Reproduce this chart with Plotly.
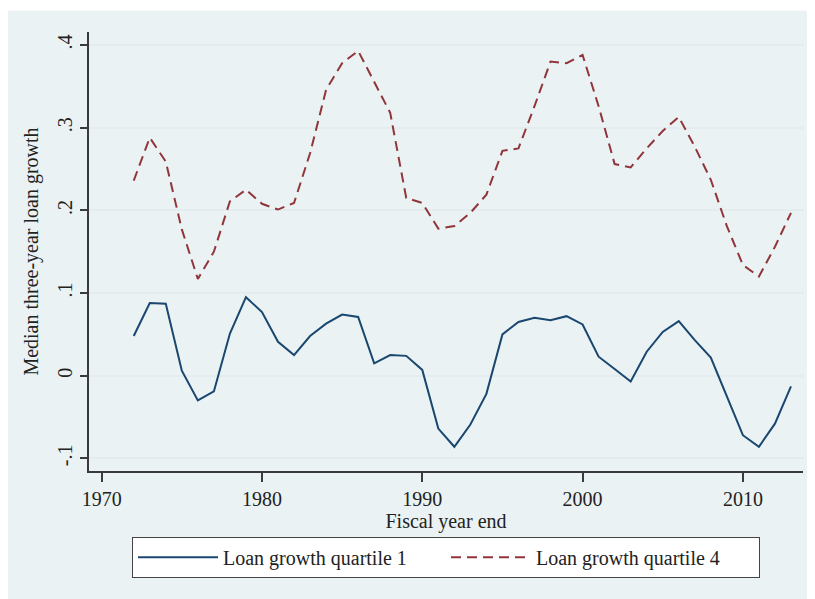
import plotly.graph_objects as go

years = list(range(1972, 2014))

q1 = [0.048, 0.088, 0.087, 0.006, -0.030, -0.019, 0.051, 0.095, 0.077, 0.041,
      0.025, 0.048, 0.063, 0.074, 0.071, 0.015, 0.025, 0.024, 0.007, -0.064,
      -0.086, -0.059, -0.022, 0.050, 0.065, 0.070, 0.067, 0.072, 0.062, 0.023,
      0.008, -0.007, 0.029, 0.053, 0.066, 0.043, 0.022, -0.025, -0.072, -0.086,
      -0.058, -0.013]

q4 = [0.236, 0.288, 0.259, 0.177, 0.117, 0.150, 0.211, 0.225, 0.208, 0.201,
      0.209, 0.269, 0.346, 0.378, 0.393, 0.356, 0.318, 0.215, 0.209, 0.178,
      0.181, 0.197, 0.219, 0.272, 0.275, 0.326, 0.380, 0.378, 0.388, 0.326,
      0.256, 0.252, 0.275, 0.296, 0.313, 0.277, 0.237, 0.181, 0.134, 0.120,
      0.156, 0.197]

series_names = ["Loan growth quartile 1", "Loan growth quartile 4"]

x_ticks = [1970, 1980, 1990, 2000, 2010]
y_ticks = [-0.1, 0, 0.1, 0.2, 0.3, 0.4]
y_tick_text = ["-.1", "0", ".1", ".2", ".3", ".4"]

FONT = "Liberation Serif, Times New Roman, serif"
BG = "#EAF2F3"
AX = "#3a3a3a"

fig = go.Figure()
fig.add_trace(go.Scatter(x=years, y=q1, mode="lines", name=series_names[0],
                         line=dict(color="#1a476f", width=2)))
fig.add_trace(go.Scatter(x=years, y=q4, mode="lines", name=series_names[1],
                         line=dict(color="#90353b", width=2, dash="10px,6px")))

fig.update_layout(
    width=815, height=599,
    margin=dict(l=81, r=20, t=24, b=136),
    paper_bgcolor="white",
    plot_bgcolor="white",
    font=dict(family=FONT, size=20, color="#222222"),
    shapes=[dict(type="rect", xref="paper", yref="paper",
                 x0=-0.2, x1=1.1, y0=-0.4, y1=1.0485,
                 fillcolor=BG, line=dict(width=0), layer="below")],
    xaxis=dict(range=[1969.21, 2013.75], tickvals=x_ticks,
               showgrid=False, zeroline=False, automargin=False,
               showline=True, linecolor=AX, linewidth=1.5,
               ticks="outside", ticklen=9, tickcolor=AX, tickwidth=1.5,
               title=dict(text="Fiscal year end", standoff=2,
                          font=dict(size=20)),
               tickfont=dict(size=20)),
    yaxis=dict(range=[-0.1153, 0.4158], tickvals=y_ticks, ticktext=y_tick_text,
               tickangle=-90, automargin=False,
               showgrid=True, gridcolor="#E3EDEF", gridwidth=1.5,
               zeroline=False,
               showline=True, linecolor=AX, linewidth=1.5,
               ticks="outside", ticklen=7, tickcolor=AX, tickwidth=1.5,
               title=dict(text="Median three-year loan growth", standoff=10,
                          font=dict(size=20)),
               tickfont=dict(size=20)),
    legend=dict(orientation="h", xanchor="center", x=0.5,
                yanchor="top", y=-0.1497,
                bgcolor="white", bordercolor="#444444", borderwidth=1,
                itemwidth=80, font=dict(size=20),
                entrywidth=218),
    showlegend=True,
)

fig.write_html("out.html")
